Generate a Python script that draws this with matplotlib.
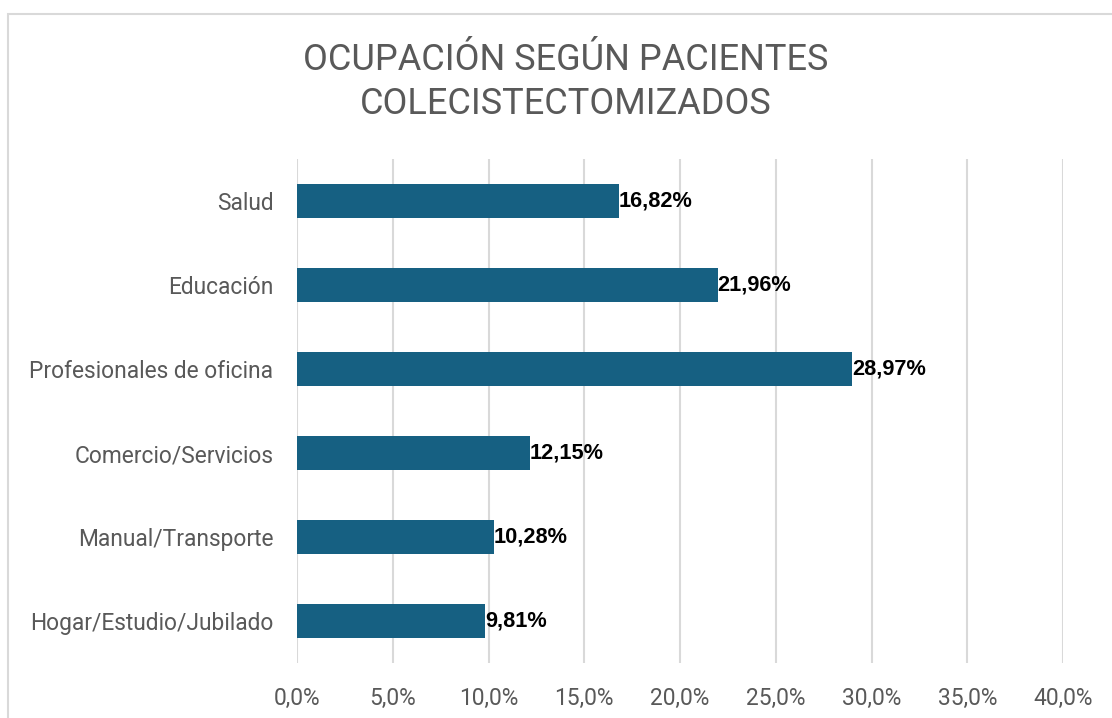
import matplotlib.pyplot as plt
from matplotlib.patches import Rectangle
from matplotlib.ticker import FuncFormatter

# Data
categories = ["Salud", "Educación", "Profesionales de oficina",
              "Comercio/Servicios", "Manual/Transporte", "Hogar/Estudio/Jubilado"]
values = [16.82, 21.96, 28.97, 12.15, 10.28, 9.81]
title = "OCUPACIÓN SEGÚN PACIENTES\nCOLECISTECTOMIZADOS"

plt.rcParams['font.family'] = ['Roboto', 'DejaVu Sans']

fig = plt.figure(figsize=(11.12, 7.18), dpi=100)
ax = fig.add_axes([297/1112, 1 - 663/718, (1063-297)/1112, (663-159)/718])

# chart border
fig.patches.append(Rectangle((8/1112, -0.05), 1.1, 1.05 - 14/718,
                             transform=fig.transFigure, fill=False,
                             edgecolor="#d9d9d9", linewidth=1.5))

ypos = list(range(len(categories)))
ax.barh(ypos, values, height=0.4, color="#166082", zorder=3)
for y, v in zip(ypos, values):
    ax.text(v, y, "{:.2f}%".format(v).replace(".", ","), va="center", ha="left",
            fontsize=15.7, fontweight="bold", color="black", zorder=4,
            family=["Liberation Sans", "DejaVu Sans"])

ax.set_ylim(len(categories) - 0.5, -0.5)
ax.set_xlim(0, 40)
ax.set_xticks(range(0, 41, 5))
ax.xaxis.set_major_formatter(FuncFormatter(lambda x, p: "{:.1f}%".format(x).replace(".", ",")))
ax.set_yticks(ypos)
ax.set_yticklabels(categories)
ax.tick_params(axis="both", length=0, labelsize=16.4, labelcolor="#595959")
ax.tick_params(axis="y", pad=17)
ax.tick_params(axis="x", pad=17)
ax.grid(axis="x", color="#d9d9d9", linewidth=1.5, zorder=0)
for s in ax.spines.values():
    s.set_visible(False)

fig.text(566/1112, 1 - 82/718, title, ha="center", va="center",
         fontsize=26, color="#595959", linespacing=1.25)

fig.savefig("out.png", dpi=100)
